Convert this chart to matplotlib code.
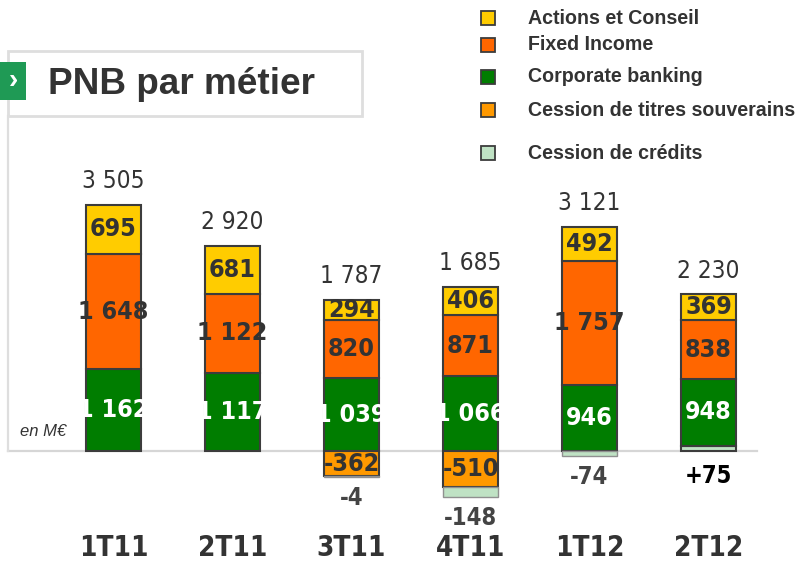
import matplotlib
matplotlib.use('Agg')
import matplotlib.pyplot as plt
from matplotlib.patches import Rectangle
from matplotlib.lines import Line2D

quarters = ['1T11', '2T11', '3T11', '4T11', '1T12', '2T12']
actions_conseil = [695, 681, 294, 406, 492, 369]
fixed_income = [1648, 1122, 820, 871, 1757, 838]
corporate_banking = [1162, 1117, 1039, 1066, 946, 948]
cession_souverains = [0, 0, -362, -510, 0, 0]
cession_credits = [0, 0, -4, -148, -74, 75]
totals = [3505, 2920, 1787, 1685, 3121, 2230]

legend_names = ['Actions et Conseil', 'Fixed Income', 'Corporate banking',
                'Cession de titres souverains', 'Cession de crédits']
c_ac = '#ffcc00'
c_fi = '#ff6600'
c_cb = '#007d00'
c_souv = '#ff9900'
c_cred = '#bfe2c4'
edge = '#3c3c3c'
dark = '#333333'

narrow = ['DejaVu Sans']
sans = ['Liberation Sans', 'DejaVu Sans']
cond = 'condensed'

W, H = 800, 565
fig = plt.figure(figsize=(8, 5.65), dpi=100)
ax = fig.add_axes([0, 0, 1, 1])
# pixel mapping: baseline at y=451px, 0.0702 px per M€, bars every 119px
ax.set_xlim(-113.5 / 119, (W - 113.5) / 119)
ax.set_ylim(-(H - 451) / 0.0702, 451 / 0.0702)
ax.axis('off')

def fmt(v):
    return f'{v:,}'.replace(',', ' ')

def fx(px):
    return px / W

def fy(py):
    return 1 - py / H

bw = 0.462
x = list(range(len(quarters)))

# frame lines
ax.axhline(0, xmin=0.01, xmax=0.946, color='#d6d6d6', lw=1.6, zorder=0)
fig.add_artist(Line2D([fx(8), fx(8)], [fy(116), fy(451)], color='#dedede', lw=1.6))
fig.add_artist(Rectangle((fx(8), fy(116)), fx(362 - 8), (116 - 51) / H, fill=False,
                         edgecolor='#dedede', lw=2))
fig.add_artist(Rectangle((0, fy(100)), fx(26), 38 / H, facecolor='#1f9a55', edgecolor='none'))
fig.text(fx(13), fy(81), '›', color='white', fontsize=20, fontweight='bold',
         ha='center', va='center', family=sans)
fig.text(fx(48), fy(84), 'PNB par métier', color=dark, fontsize=26.6, fontweight='bold',
         ha='left', va='center', family=sans)
fig.text(fx(20), fy(432), 'en M€', color=dark, fontsize=12, style='italic',
         ha='left', va='center', family=sans)

for i in x:
    base = 0
    if cession_credits[i] > 0:
        ax.bar(i, cession_credits[i], bw, bottom=base, color=c_cred, edgecolor=edge, lw=1.5)
        base += cession_credits[i]
    for vals, col, tcol in [(corporate_banking, c_cb, 'white'),
                            (fixed_income, c_fi, dark),
                            (actions_conseil, c_ac, dark)]:
        v = vals[i]
        ax.bar(i, v, bw, bottom=base, color=col, edgecolor=edge, lw=1.5)
        ax.text(i, base + v / 2, fmt(v), color=tcol, fontsize=18, fontweight='bold',
                ha='center', va='center', family=narrow, stretch=cond)
        base += v
    ax.annotate(fmt(totals[i]), (i, base), xytext=(0, 17), textcoords='offset points',
                ha='center', va='center', fontsize=17.5, color=dark, family=narrow, stretch=cond)
    neg = 0
    if cession_souverains[i] < 0:
        v = cession_souverains[i]
        ax.bar(i, v, bw, bottom=0, color=c_souv, edgecolor=edge, lw=1.5)
        ax.text(i, v / 2, fmt(v), color=dark, fontsize=18, fontweight='bold',
                ha='center', va='center', family=narrow, stretch=cond)
        neg = v
    c = cession_credits[i]
    if c < 0:
        ax.bar(i, c, bw, bottom=neg, color=c_cred, edgecolor='#909090', lw=1)
        neg += c
    if c != 0:
        lab = fmt(c) if c < 0 else '+' + fmt(c)
        ax.annotate(lab, (i, neg), xytext=(0, -15 if c < 0 else -18), textcoords='offset points',
                    ha='center', va='center', fontsize=17, fontweight='bold',
                    color='#444444' if c < 0 else 'black', family=narrow, stretch=cond)
    ax.text(i, -(548 - 451) / 0.0702, quarters[i], color=dark, fontsize=20,
            fontweight='bold', ha='center', va='center', family=narrow, stretch=cond)

# legend
leg_y = [18, 45, 77, 110, 153]
leg_cols = [c_ac, c_fi, c_cb, c_souv, c_cred]
for name, col, yy in zip(legend_names, leg_cols, leg_y):
    fig.add_artist(Rectangle((fx(481), fy(yy + 7)), fx(14), 14 / H, facecolor=col,
                             edgecolor=edge, lw=1.3))
    fig.text(fx(528), fy(yy), name, color=dark, fontsize=14.1, fontweight='bold',
             ha='left', va='center', family=sans)

fig.savefig('out.png', dpi=100)
